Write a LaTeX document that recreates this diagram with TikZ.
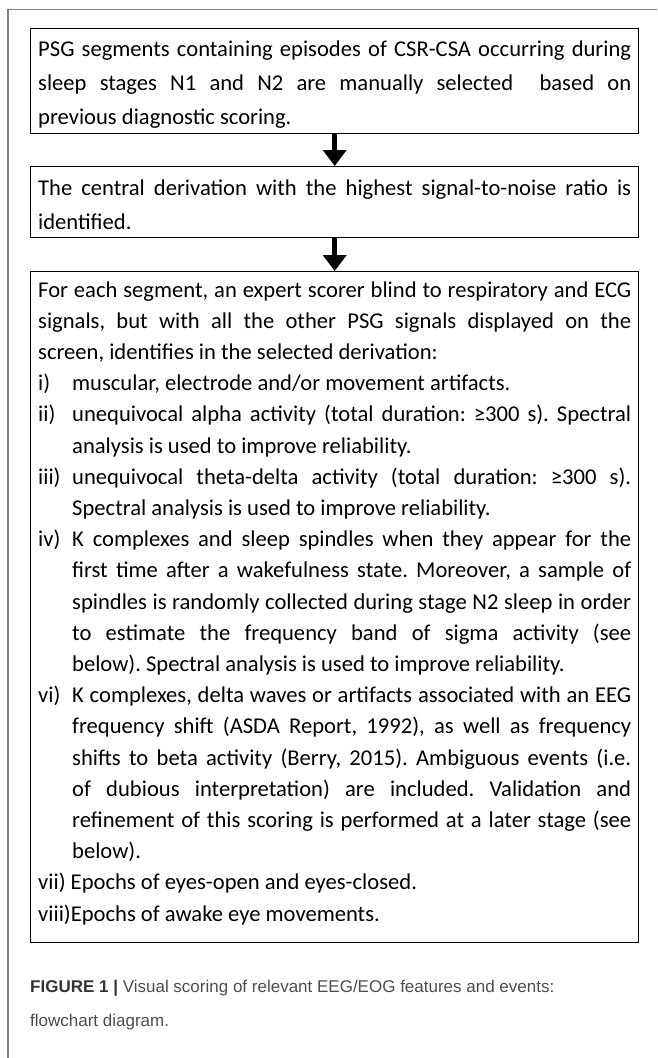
\documentclass[tikz,border=0pt]{standalone}
\usepackage{fontspec}
\setmainfont{Carlito}
\newfontfamily\capfont{Liberation Sans}
\usetikzlibrary{arrows.meta}
\definecolor{framegray}{HTML}{7F7F7F}
\definecolor{capdark}{HTML}{333333}
\definecolor{captext}{HTML}{4D4D4D}
\newcommand\boxfont{\fontsize{22.6}{34}\selectfont\frenchspacing}
\newcommand\listfont{\fontsize{22.6}{31.2}\selectfont\frenchspacing}
\newcommand\itm[2]{\par\hangindent=34pt\hangafter=1\noindent\makebox[34pt][l]{#1}#2}
\tikzset{
  boxst/.style={draw=black, line width=1.4pt, inner sep=0pt, minimum width=608pt, anchor=north west},
  txtst/.style={inner sep=0pt, anchor=base west, text=black},
  arr/.style={line width=4.6pt, -{Triangle[width=23pt,length=16pt]}},
  capst/.style={inner sep=0pt, anchor=base west, text=captext, font=\capfont\fontsize{17}{34}\selectfont}
}
\begin{document}
\begin{tikzpicture}[x=1pt,y=-1pt]
\useasboundingbox (0,0) rectangle (657,1058);
\draw[framegray, line width=1.2pt] (8,1058) -- (8,9.5) -- (657,9.5);

\node[boxst, minimum height=105pt] (b1) at (30,28) {};
\node[boxst, minimum height=71pt] (b2) at (30,166) {};
\node[boxst, minimum height=671pt] (b3) at (30,271) {};

\node[txtst] (t1) at (38,56) {\parbox[t]{593pt}{\boxfont
PSG segments containing episodes of CSR-CSA occurring during\linebreak
sleep stages N1 and N2 are manually selected\ \ based on\linebreak
previous diagnostic scoring.}};

\node[txtst] (t2) at (38,195) {\parbox[t]{593pt}{\boxfont
The central derivation with the highest signal-to-noise ratio is\linebreak
identified.}};

\node[txtst] (t3) at (38,297) {\parbox[t]{593pt}{\listfont
\noindent For each segment, an expert scorer blind to respiratory and ECG\linebreak
signals, but with all the other PSG signals displayed on the\linebreak
screen, identifies in the selected derivation:
\itm{i)}{muscular, electrode and/or movement artifacts.}
\itm{ii)}{unequivocal alpha activity (total duration: ≥300 s). Spectral\linebreak
analysis is used to improve reliability.}
\itm{iii)}{unequivocal theta-delta activity (total duration: ≥300 s).\linebreak
Spectral analysis is used to improve reliability.}
\itm{iv)}{K complexes and sleep spindles when they appear for the\linebreak
first time after a wakefulness state. Moreover, a sample of\linebreak
spindles is randomly collected during stage N2 sleep in order\linebreak
to estimate the frequency band of sigma activity (see\linebreak
below). Spectral analysis is used to improve reliability.}
\itm{vi)}{K complexes, delta waves or artifacts associated with an EEG\linebreak
frequency shift (ASDA Report, 1992), as well as frequency\linebreak
shifts to beta activity (Berry, 2015). Ambiguous events (i.e.\linebreak
of dubious interpretation) are included. Validation and\linebreak
refinement of this scoring is performed at a later stage (see\linebreak
below).}
\par\hangindent=34pt\hangafter=1\noindent vii) Epochs of eyes-open and eyes-closed.
\par\hangindent=34pt\hangafter=1\noindent viii)Epochs of awake eye movements.}};

\draw[arr] (b1.south) -- (b2.north);
\draw[arr] (b2.south) -- (b3.north);

\node[capst] (cap) at (30,980) {\parbox[t]{620pt}{\raggedright
{\bfseries\color{capdark}FIGURE 1 |} Visual scoring of relevant EEG/EOG features and events:\\
flowchart diagram.}};
\end{tikzpicture}
\end{document}
